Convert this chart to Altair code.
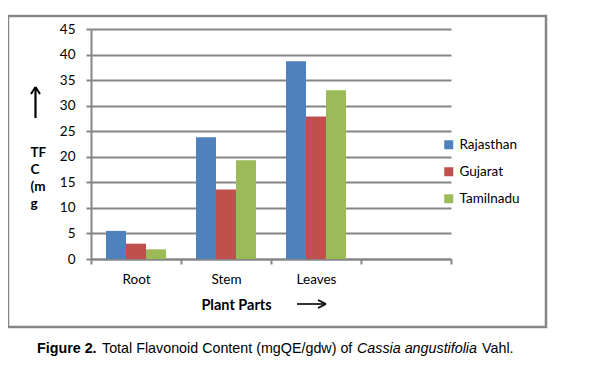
import altair as alt
import pandas as pd

parts = ["Root", "Stem", "Leaves"]
regions = ["Rajasthan", "Gujarat", "Tamilnadu"]
rajasthan = [5.5, 23.8, 38.7]
gujarat = [3.0, 13.6, 27.9]
tamilnadu = [1.9, 19.3, 33.0]
x_domain = ["Root", "Stem", "Leaves", "_"]
y_ticks = [0, 5, 10, 15, 20, 25, 30, 35, 40, 45]
colors = ["#4F81BD", "#C0504D", "#9BBB59"]

rows = []
for i, p in enumerate(parts):
    for r, vals in zip(regions, [rajasthan, gujarat, tamilnadu]):
        rows.append({"part": p, "region": r, "value": vals[i]})
df = pd.DataFrame(rows)

GRAY = "#868686"
FONT = "Lato"

bars = alt.Chart(df).mark_bar().encode(
    x=alt.X("part:N", scale=alt.Scale(domain=x_domain, paddingInner=0, paddingOuter=0),
            axis=alt.Axis(title="Plant Parts", titleX=145, titleY=46, titleBaseline="middle",
                          titleFont=FONT, titleFontSize=14.5, titleFontWeight="bold",
                          titleColor="#000",
                          labelAngle=0, labelFont=FONT, labelFontSize=13.5, labelColor="#000",
                          labelPadding=8, tickBand="extent", tickSize=5, tickColor=GRAY,
                          tickWidth=2, domainColor=GRAY, domainWidth=2,
                          labelExpr="datum.label == '_' ? '' : datum.label")),
    xOffset=alt.XOffset("region:N", sort=regions,
                        scale=alt.Scale(paddingInner=0, paddingOuter=0.75)),
    y=alt.Y("value:Q", scale=alt.Scale(domain=[0, 45], nice=False),
            axis=alt.Axis(values=y_ticks, title=["TF", "C", "(m", "g"], titleAngle=0,
                          titleX=-61, titleY=123, titleAlign="left", titleBaseline="middle",
                          titleLineHeight=17, titleFont=FONT, titleFontSize=13.5,
                          titleFontWeight="bold", titleColor="#000",
                          labelFont=FONT, labelFontSize=13.5, labelColor="#000",
                          labelPadding=11, tickSize=5, tickColor=GRAY, tickWidth=2,
                          domainColor=GRAY, domainWidth=2, gridColor=GRAY, gridWidth=2)),
    color=alt.Color("region:N", sort=regions,
                    scale=alt.Scale(domain=regions, range=colors),
                    legend=alt.Legend(title=None, orient="none", legendX=351, legendY=109,
                                      symbolType="square", symbolSize=81, symbolStrokeWidth=0,
                                      labelFont=FONT, labelFontSize=13.5, labelColor="#000",
                                      rowPadding=12, labelOffset=4)),
)

one = alt.Data(values=[{}])

border = alt.Chart(one).mark_rect(fillOpacity=0, stroke=GRAY, strokeWidth=2.5).encode(
    x=alt.value(-83), x2=alt.value(455), y=alt.value(-13), y2=alt.value(298))

def seg(x1, y1, x2, y2, w=2):
    return alt.Chart(one).mark_rule(color="#000", strokeWidth=w).encode(
        x=alt.value(x1), x2=alt.value(x2), y=alt.value(y1), y2=alt.value(y2))

arrows = [
    seg(-55.5, 58, -55.5, 89, 2.2), seg(-55.5, 58, -60, 65, 2), seg(-55.5, 58, -51, 65, 2),
    seg(206, 275, 235, 275, 1.6), seg(235, 275, 227, 271, 1.6), seg(235, 275, 227, 279, 1.6),
]

def cap(txt, x, weight="normal", style="normal"):
    return alt.Chart(one).mark_text(font="Liberation Sans", fontSize=14.3, fontWeight=weight,
                                    fontStyle=style, align="left", baseline="middle",
                                    color="#000").encode(
        x=alt.value(x), y=alt.value(320), text=alt.value(txt))

caption = [
    cap("Figure 2.", -54, weight="bold"),
    cap("Total Flavonoid Content (mgQE/gdw) of", 11),
    cap("Cassia angustifolia", 266, style="italic"),
    cap("Vahl.", 391),
]

chart = alt.layer(bars, border, *arrows, *caption).properties(
    width=360, height=230,
    autosize=alt.AutoSizeParams(type="none"),
    padding={"left": 83, "top": 21, "right": 134, "bottom": 106},
).configure_view(stroke=None).configure_axisX(grid=False)

chart.save("out.html", embed_options={"renderer": "svg", "actions": False})
